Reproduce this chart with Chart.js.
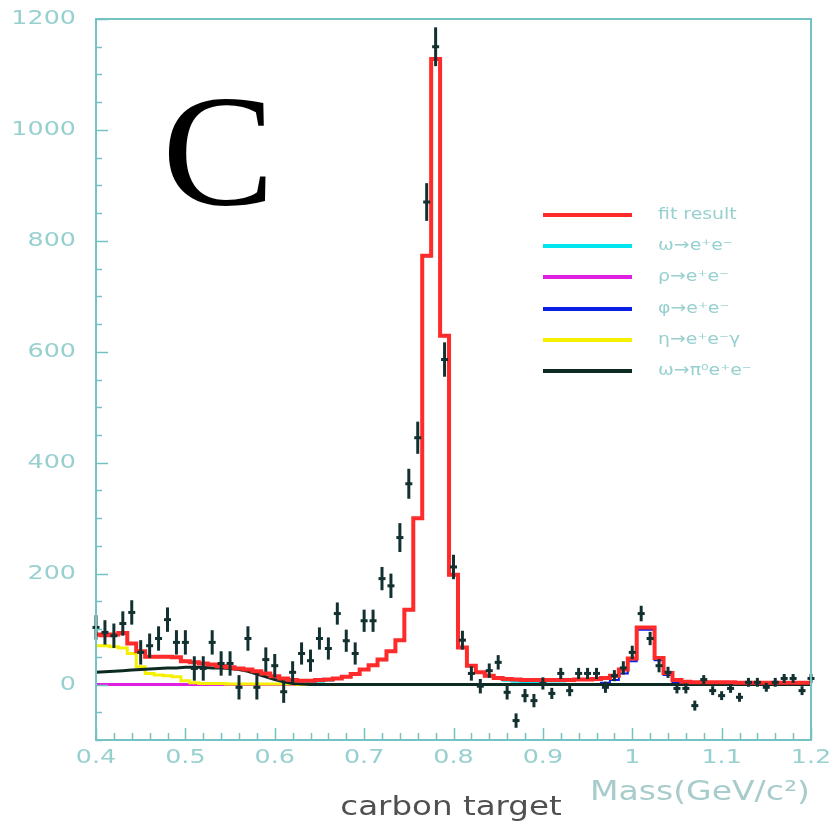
<!DOCTYPE html>
<html>
<head>
<meta charset="utf-8">
<title>carbon target</title>
<script src="https://cdn.jsdelivr.net/npm/chart.js@4"></script>
<style>
  body { margin: 0; background: #fff; }
  #wrap { width: 832px; height: 825px; position: relative; }
</style>
</head>
<body>
<div id="wrap"><canvas id="massChart"></canvas></div>
<script>
// bin centres (GeV/c^2)
const masses = [
  0.40, 0.41, 0.42, 0.43, 0.44, 0.45, 0.46, 0.47, 0.48, 0.49,
  0.50, 0.51, 0.52, 0.53, 0.54, 0.55, 0.56, 0.57, 0.58, 0.59,
  0.60, 0.61, 0.62, 0.63, 0.64, 0.65, 0.66, 0.67, 0.68, 0.69,
  0.70, 0.71, 0.72, 0.73, 0.74, 0.75, 0.76, 0.77, 0.78, 0.79,
  0.80, 0.81, 0.82, 0.83, 0.84, 0.85, 0.86, 0.87, 0.88, 0.89,
  0.90, 0.91, 0.92, 0.93, 0.94, 0.95, 0.96, 0.97, 0.98, 0.99,
  1.00, 1.01, 1.02, 1.03, 1.04, 1.05, 1.06, 1.07, 1.08, 1.09,
  1.10, 1.11, 1.12, 1.13, 1.14, 1.15, 1.16, 1.17, 1.18, 1.19,
  1.20
];

// measured counts and their errors
const counts = [
  103, 94, 88, 110, 130, 58, 70, 83, 117, 76,
  76, 29, 29, 76, 38, 38, -5, 83, -5, 45,
  34, -13, 22, 56, 43, 83, 65, 128, 79, 56,
  115, 115, 191, 178, 265, 362, 445, 870, 1150, 586,
  212, 80, 20, -3, 25, 40, -14, -65, -20, -29,
  2, -16, 20, -11, 20, 20, 20, -5, 16, 30,
  58, 128, 83, 34, 22, -7, -7, -38, 9, -11,
  -20, -7, -23, 4, 4, -5, 4, 11, 11, -11,
  11
];
const errors = [
  22, 22, 22, 22, 22, 22, 22, 22, 22, 22,
  22, 22, 22, 22, 22, 22, 22, 22, 22, 22,
  21, 20, 20, 20, 20, 20, 20, 20, 20, 20,
  20, 20, 21, 22, 26, 27, 29, 34, 35, 31,
  22, 17, 13, 13, 13, 13, 13, 13, 12, 12,
  11, 10, 10, 10, 10, 10, 10, 10, 10, 12,
  12, 14, 12, 12, 10, 9, 9, 9, 8, 8,
  8, 8, 8, 8, 8, 8, 8, 8, 8, 8,
  8
];

// fit and its components
const fitResult = [
  90, 89, 90, 93, 74, 60, 50, 50, 50, 49,
  42, 40, 38, 36, 33, 31, 29, 27, 24, 20,
  15, 11, 8, 7, 7, 8, 9, 11, 14, 19,
  27, 35, 45, 60, 80, 135, 300, 773, 1128, 629,
  198, 67, 34, 22, 16, 12, 10, 9, 8, 8,
  8, 8, 8, 8, 9, 9, 10, 12, 16, 27,
  47, 103, 103, 48, 21, 8, 5, 4, 4, 4,
  4, 4, 3, 3, 3, 3, 3, 3, 3, 3,
  3
];
const omegaEE = [
  0, 0, 0, 0, 0, 0, 0, 0, 0, 0,
  0, 0, 0, 0, 0, 0, 0, 0, 0, 0,
  0, 0, 1, 2, 3, 5, 7, 10, 13, 18,
  26, 34, 44, 59, 79, 134, 299, 772, 1127, 628,
  197, 66, 33, 21, 15, 10, 7, 5, 4, 3,
  2, 2, 2, 1, 1, 1, 1, 1, 1, 1,
  1, 1, 1, 1, 1, 1, 1, 0, 0, 0,
  0, 0, 0, 0, 0, 0, 0, 0, 0, 0,
  0
];
const rhoEE = [
  0, 0, 0, 0, 0, 0, 0, 0, 0, 0,
  0, 0, 0, 0, 0, 0, 0, 0, 0, 0,
  0, 0, 0, 0, 0, 0, 0, 0, 0, 0,
  0, 0, 0, 0, 0, 0, 0, 0, 0, 0,
  0, 0, 0, 0, 0, 0, 0, 0, 0, 0,
  0, 0, 0, 0, 0, 0, 0, 0, 0, 0,
  0, 0, 0, 0, 0, 0, 0, 0, 0, 0,
  0, 0, 0, 0, 0, 0, 0, 0, 0, 0,
  0
];
const phiEE = [
  0, 0, 0, 0, 0, 0, 0, 0, 0, 0,
  0, 0, 0, 0, 0, 0, 0, 0, 0, 0,
  0, 0, 0, 0, 0, 0, 0, 0, 0, 0,
  0, 0, 0, 0, 0, 0, 0, 0, 0, 0,
  0, 0, 0, 0, 0, 0, 0, 0, 0, 0,
  0, 0, 0, 0, 0, 0, 1, 3, 8, 20,
  42, 99, 99, 44, 17, 4, 1, 0, 0, 0,
  0, 0, 0, 0, 0, 0, 0, 0, 0, 0,
  0
];
const etaDalitz = [
  70, 70, 68, 66, 56, 32, 20, 17, 16, 14,
  7, 3, 2, 2, 2, 1, 1, 1, 1, 1,
  1, 1, 1, 0, 0, 0, 0, 0, 0, 0,
  0, 0, 0, 0, 0, 0, 0, 0, 0, 0,
  0, 0, 0, 0, 0, 0, 0, 0, 0, 0,
  0, 0, 0, 0, 0, 0, 0, 0, 0, 0,
  0, 0, 0, 0, 0, 0, 0, 0, 0, 0,
  0, 0, 0, 0, 0, 0, 0, 0, 0, 0,
  0
];
const omegaDalitz = [
  22, 23, 24, 25, 26, 27, 28, 29, 30, 30,
  31, 31, 31, 30, 30, 29, 27, 24, 19, 14,
  9, 5, 2, 1, 0, 0, 0, 0, 0, 0,
  0, 0, 0, 0, 0, 0, 0, 0, 0, 0,
  0, 0, 0, 0, 0, 0, 0, 0, 0, 0,
  0, 0, 0, 0, 0, 0, 0, 0, 0, 0,
  0, 0, 0, 0, 0, 0, 0, 0, 0, 0,
  0, 0, 0, 0, 0, 0, 0, 0, 0, 0,
  0
];

// axis ticks
const xTicks = [0.4, 0.5, 0.6, 0.7, 0.8, 0.9, 1.0, 1.1, 1.2];
const xTickLabels = ['0.4', '0.5', '0.6', '0.7', '0.8', '0.9', '1', '1.1', '1.2'];
const yTicks = [0, 200, 400, 600, 800, 1000, 1200];
const yTickLabels = ['0', '200', '400', '600', '800', '1000', '1200'];

const axisColor = '#74c2c2';
const textColor = '#98d0d0';

function pts(values) {
  return masses.map(function (m, i) { return { x: m, y: values[i] }; });
}

// frame, inward ticks, tick labels, titles, error bars and the legend box
const decorations = {
  id: 'decorations',
  afterDatasetsDraw: function (chart) {
    const ctx = chart.ctx;
    const ys = chart.scales.y;

    // error bars of the data
    const meta = chart.getDatasetMeta(0);
    ctx.save();
    ctx.strokeStyle = '#123030';
    ctx.lineWidth = 3;
    meta.data.forEach(function (p, i) {
      const top = ys.getPixelForValue(counts[i] + errors[i]);
      const bot = ys.getPixelForValue(counts[i] - errors[i]);
      ctx.beginPath();
      ctx.moveTo(p.x, top);
      ctx.lineTo(p.x, bot);
      ctx.stroke();
    });
    ctx.restore();
  },
  afterDraw: function (chart) {
    const ctx = chart.ctx;
    const xs = chart.scales.x;
    const ys = chart.scales.y;
    const area = chart.chartArea;

    ctx.save();
    ctx.strokeStyle = axisColor;
    ctx.lineWidth = 2;
    ctx.strokeRect(area.left, area.top, area.right - area.left, area.bottom - area.top);

    // y ticks every 50, long ones every 200
    ctx.lineWidth = 1.5;
    for (let v = -100; v <= 1200; v += 50) {
      const py = Math.round(ys.getPixelForValue(v)) + 0.5;
      const len = (v % 200 === 0) ? 12 : 6;
      ctx.beginPath();
      ctx.moveTo(area.left, py);
      ctx.lineTo(area.left + len, py);
      ctx.stroke();
    }
    // x ticks every 0.02
    for (let k = 0; k <= 40; k++) {
      const v = 0.4 + k * 0.02;
      const px = Math.round(xs.getPixelForValue(v)) + 0.5;
      const len = (k % 5 === 0) ? 12 : 7;
      ctx.beginPath();
      ctx.moveTo(px, area.bottom);
      ctx.lineTo(px, area.bottom - len);
      ctx.stroke();
    }

    // tick labels (the original font is wide, so stretch it)
    const stretch = 1.27;
    ctx.fillStyle = textColor;
    ctx.font = '20px "DejaVu Sans"';
    ctx.textBaseline = 'middle';
    ctx.textAlign = 'right';
    yTicks.forEach(function (v, i) {
      const py = ys.getPixelForValue(v);
      ctx.save();
      ctx.translate(76, py);
      ctx.scale(stretch, 1);
      ctx.fillText(yTickLabels[i], 0, 0);
      ctx.restore();
    });
    ctx.textAlign = 'center';
    xTicks.forEach(function (v, i) {
      const px = xs.getPixelForValue(v);
      ctx.save();
      ctx.translate(px, 758);
      ctx.scale(stretch, 1);
      ctx.fillText(xTickLabels[i], 0, 0);
      ctx.restore();
    });

    // axis title
    ctx.font = '26px "DejaVu Sans"';
    ctx.textBaseline = 'alphabetic';
    ctx.textAlign = 'right';
    ctx.fillStyle = '#a8cccc';
    ctx.save();
    ctx.translate(810, 800);
    ctx.scale(stretch, 1);
    ctx.fillText('Mass(GeV/c\u00b2)', 0, 0);
    ctx.restore();

    // target label
    ctx.textAlign = 'center';
    ctx.fillStyle = '#505050';
    ctx.save();
    ctx.translate(451, 815);
    ctx.scale(1.25, 1);
    ctx.fillText('carbon target', 0, 0);
    ctx.restore();

    // panel letter
    ctx.textAlign = 'left';
    ctx.fillStyle = '#000';
    ctx.font = '158px "Liberation Serif"';
    ctx.save();
    ctx.translate(162, 204);
    ctx.scale(1.07, 1);
    ctx.fillText('C', 0, 0);
    ctx.restore();

    // legend
    const legendRows = [215, 246, 277, 309, 340, 371];
    ctx.font = '16px "DejaVu Sans"';
    ctx.textBaseline = 'middle';
    chart.data.datasets.slice(1).forEach(function (ds, i) {
      const ly = legendRows[i];
      ctx.strokeStyle = ds.borderColor;
      ctx.lineWidth = 4;
      ctx.beginPath();
      ctx.moveTo(543, ly);
      ctx.lineTo(632, ly);
      ctx.stroke();
      ctx.fillStyle = textColor;
      ctx.save();
      ctx.translate(658, ly);
      ctx.scale(1.18, 1);
      ctx.fillText(ds.label, 0, 0);
      ctx.restore();
    });
    ctx.restore();
  }
};

document.addEventListener('DOMContentLoaded', function () {
  const ctx = document.getElementById('massChart').getContext('2d');

  // higher "order" is drawn first (underneath)
  const data = {
    datasets: [
      {
        label: 'data',
        type: 'scatter',
        data: pts(counts),
        pointStyle: 'line',
        pointRadius: 3.5,
        pointBorderWidth: 3,
        borderColor: '#123030',
        backgroundColor: '#123030',
        order: 0,
        clip: false
      },
      {
        label: 'fit result',
        data: pts(fitResult),
        borderColor: '#ff2a2a',
        borderWidth: 4,
        stepped: 'middle',
        order: 1
      },
      {
        label: '\u03c9\u2192e\u207ae\u207b',
        data: pts(omegaEE),
        borderColor: '#00e5ee',
        borderWidth: 2,
        stepped: 'middle',
        order: 6
      },
      {
        label: '\u03c1\u2192e\u207ae\u207b',
        data: pts(rhoEE),
        borderColor: '#e020e0',
        borderWidth: 3,
        stepped: 'middle',
        order: 4
      },
      {
        label: '\u03c6\u2192e\u207ae\u207b',
        data: pts(phiEE),
        borderColor: '#0a1ee6',
        borderWidth: 2,
        stepped: 'middle',
        order: 5
      },
      {
        label: '\u03b7\u2192e\u207ae\u207b\u03b3',
        data: pts(etaDalitz),
        borderColor: '#f5f000',
        borderWidth: 3,
        stepped: 'middle',
        order: 3
      },
      {
        label: '\u03c9\u2192\u03c0\u2070e\u207ae\u207b',
        data: pts(omegaDalitz),
        borderColor: '#0c2a22',
        borderWidth: 3,
        tension: 0,
        order: 2
      }
    ]
  };

  const options = {
    responsive: true,
    maintainAspectRatio: false,
    animation: false,
    layout: { padding: { left: 96, right: 21, top: 19, bottom: 85 } },
    elements: { point: { radius: 0 }, line: { fill: false } },
    scales: {
      x: { type: 'linear', min: 0.4, max: 1.2, display: false },
      y: { type: 'linear', min: -100, max: 1200, display: false }
    },
    plugins: {
      legend: { display: false },
      tooltip: { enabled: false }
    }
  };

  new Chart(ctx, {
    type: 'line',
    data: data,
    options: options,
    plugins: [decorations]
  });
});
</script>
</body>
</html>
